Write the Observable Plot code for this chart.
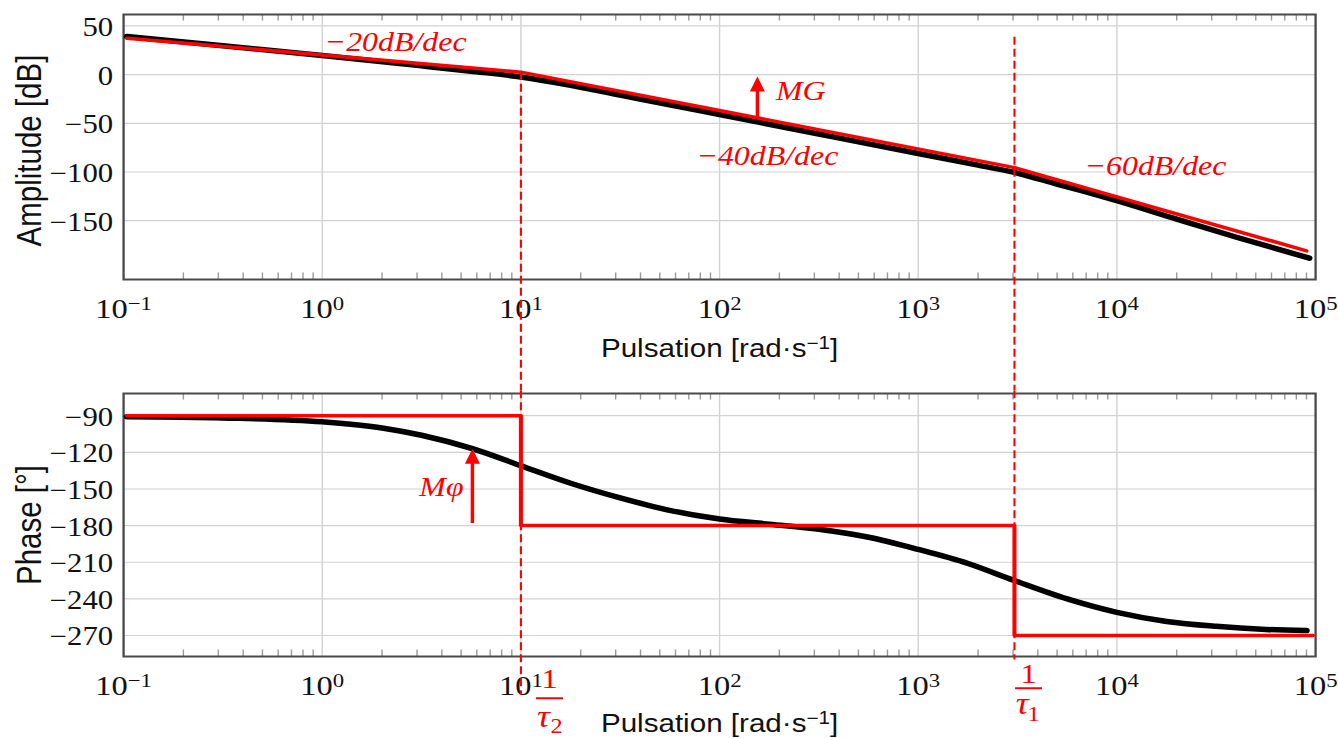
<!DOCTYPE html>
<html>
<head>
<meta charset="utf-8">
<script src="https://cdn.jsdelivr.net/npm/d3@7"></script>
<script src="https://cdn.jsdelivr.net/npm/@observablehq/plot@0.6"></script>
<style>
  html, body { margin: 0; padding: 0; background: #fff; overflow: hidden; }
  #chart { width: 1153px; transform-origin: 0 0; }
  #chart svg { display: block; }
</style>
</head>
<body>
<div id="chart"></div>
<script>
// ---------------- data ----------------
// Bode magnitude: actual curve (black)
const magW  = [0.104, 0.316, 1, 3.16, 5.6, 10, 17.8, 31.6, 56, 100, 316, 1000, 2000, 3050, 5000, 10000, 20000, 40000, 93000];
const magDb = [39.1, 29.6, 19.5, 9.0, 3.5, -2.5, -11, -21, -31, -41, -61, -81, -93, -100.5, -112.5, -129.5, -148.5, -167, -188.5];
// Bode magnitude: asymptotes (red)
const magAsymW  = [0.104, 10, 3050, 90000];
const magAsymDb = [37.4, 2.5, -95.5, -181];
// Bode phase: actual curve (black)
const phW   = [0.104, 0.316, 1, 2, 3.16, 5.7, 10, 17.8, 31.6, 56, 100, 178, 316, 562, 1000, 1780, 3050, 5620, 10000, 17800, 31600, 56200, 90000];
const phDeg = [-90.8, -91.8, -95, -100, -106, -117, -131, -145.3, -157.3, -167.5, -174.6, -178.8, -183, -189.5, -199.5, -211, -225, -240, -251, -258.5, -262.5, -265, -266];
// Bode phase: asymptotes (red step)
const phAsymW   = [0.104, 10, 10, 3050, 3050, 97000];
const phAsymDeg = [-90, -90, -180, -180, -270, -270];
// ticks
const decadeExps = [-1, 0, 1, 2, 3, 4, 5];
const magTicks = [50, 0, -50, -100, -150];
const phTicks = [-90, -120, -150, -180, -210, -240, -270];
// corner pulsations 1/tau2, 1/tau1
const corners = [10, 3050];
// annotation texts (top panel)
const slopeText = ["−20dB/dec", "−40dB/dec", "−60dB/dec", "MG"];
const slopeW    = [2.34, 174, 15630, 256];
const slopeDb   = [24, -93.3, -102.6, -26.6];
// margin arrows
const mgArrow  = {w: 155, from: -45.6, to: -2};
const mphArrow = {w: 5.7, from: -178.3, to: -117};
// dashed corner lines: start / end values
const dashTopFrom = [2.5, 38.4];
const dashBotTo = [-319, -290];

// ---------------- layout ----------------
const W = 1153, S = 1338 / W;
const ML = 123 / S, MR = (1338 - 1315) / S;
const RED = "#ff0000";
const GRID = "#d2d2d2";
const xDomain = [0.1, 1e5];
const topDomain = [-210.4, 61.7];
const botDomain = [-287.2, -71.8];
const fmtExp = e => (e < 0 ? "−" + (-e) : String(e));
const minors = [];
for (const e of decadeExps.slice(0, -1)) for (let k = 2; k <= 9; k++) minors.push(k * 10 ** e);
const majors = decadeExps.slice(1, -1).map(e => 10 ** e);

const arrowHead = {draw(ctx) { ctx.moveTo(0, 0); ctx.lineTo(-6.5, 15); ctx.lineTo(6.5, 15); ctx.closePath(); }};

function frameMarks(yDomain, yTicks, tickLenUnits, titleDy) {
  return [
    Plot.ruleX(majors, {stroke: GRID, strokeWidth: 1.2}),
    Plot.ruleY(yTicks, {stroke: GRID, strokeWidth: 1.2}),
    Plot.ruleX(minors, {y1: yDomain[0], y2: yDomain[0] + tickLenUnits, stroke: "#999", strokeWidth: 1.2}),
    Plot.ruleX(minors, {y1: yDomain[1], y2: yDomain[1] - tickLenUnits, stroke: "#999", strokeWidth: 1.2}),
    Plot.frame({stroke: "#4a4a4a", strokeWidth: 2}),
    Plot.text(yTicks, {y: d => d, text: d => (d < 0 ? "−" + (-d) : String(d)), frameAnchor: "left",
      textAnchor: "end", lineAnchor: "bottom", dx: -9, dy: 10, fontSize: 26.5, fontFamily: "Liberation Serif", fill: "#111"}),
    Plot.text(decadeExps, {x: e => 10 ** e, text: e => `10{${fmtExp(e)}}`, frameAnchor: "bottom",
      textAnchor: "middle", lineAnchor: "bottom", dy: 38, fontSize: 28, fontFamily: "Liberation Serif", fill: "#111"}),
    Plot.text(["Pulsation [rad·s{−1}]"], {text: d => d, frameAnchor: "bottom", textAnchor: "middle",
      lineAnchor: "bottom", dy: titleDy, fontSize: 25.5, fontFamily: "Liberation Sans", fill: "#111"})
  ];
}

const mag = magW.map((w, i) => ({w, v: magDb[i]}));
const magAsym = magAsymW.map((w, i) => ({w, v: magAsymDb[i]}));
const ph = phW.map((w, i) => ({w, v: phDeg[i]}));
const phAsym = phAsymW.map((w, i) => ({w, v: phAsymDeg[i]}));
const slopes = slopeText.map((t, i) => ({t, w: slopeW[i], v: slopeDb[i]}));

const topPlot = Plot.plot({
  width: W, height: 390, marginTop: 14, marginBottom: 111, marginLeft: ML, marginRight: MR,
  style: {background: "white", overflow: "hidden"},
  x: {type: "log", domain: xDomain, axis: null},
  y: {domain: topDomain, axis: null},
  marks: [
    ...frameMarks(topDomain, magTicks, 6.5 / 0.974, 77),
    Plot.text(["Amplitude [dB]"], {text: d => d, y: -78, frameAnchor: "left", rotate: -90,
      textAnchor: "middle", lineAnchor: "bottom", dx: 35.1 - ML, fontSize: 29.5,
      fontFamily: "Liberation Sans", fill: "#111"}),
    Plot.line(mag, {x: "w", y: "v", stroke: "#000", strokeWidth: 5.5, curve: "monotone-x"}),
    Plot.line(magAsym, {x: "w", y: "v", stroke: RED, strokeWidth: 3.5}),
    Plot.ruleX(corners.map((w, i) => ({w, from: dashTopFrom[i]})), {x: "w", y1: "from", y2: -340,
      stroke: RED, strokeWidth: 1.8, strokeDasharray: "8,4"}),
    Plot.ruleX([mgArrow], {x: "w", y1: "to", y2: "from", insetTop: 8, stroke: RED, strokeWidth: 3}),
    Plot.dot([mgArrow], {x: "w", y: "to", symbol: arrowHead, fill: RED, stroke: "none"}),
    Plot.text(slopes, {x: "w", y: "v", text: "t", textAnchor: "middle", lineAnchor: "bottom", fontSize: 27.5,
      fontFamily: "Liberation Serif", fontStyle: "italic", fill: RED})
  ]
});

// fraction labels (bottom panel)
const fracOne = [{w: 13.94, v: -312.6}, {w: 3592, v: -308.5}];
const fracBar = [{w1: 11.98, w2: 16.39, v: -321.4}, {w1: 3090, w2: 4225, v: -313.2}];
const fracTau = [{w: 13.0, v: -345.2}, {w: 3336, v: -334.1}];
const fracSub = [{t: "2", w: 15.12, v: -349.5}, {t: "1", w: 3806, v: -340.4}];

const botPlot = Plot.plot({
  width: W, height: 348, marginTop: 3, marginBottom: 82, marginLeft: ML, marginRight: MR,
  style: {background: "white", overflow: "hidden"},
  x: {type: "log", domain: xDomain, axis: null},
  y: {domain: botDomain, axis: null},
  marks: [
    ...frameMarks(botDomain, phTicks, 6.5 / 1.221, 75),
    Plot.text(["Phase [°]"], {text: d => d, y: (botDomain[0] + botDomain[1]) / 2, frameAnchor: "left", rotate: -90,
      textAnchor: "middle", lineAnchor: "bottom", dx: 35.1 - ML, fontSize: 29.5,
      fontFamily: "Liberation Sans", fill: "#111"}),
    Plot.line(ph, {x: "w", y: "v", stroke: "#000", strokeWidth: 5.5, curve: "monotone-x"}),
    Plot.line(phAsym, {x: "w", y: "v", stroke: RED, strokeWidth: 3.5}),
    Plot.ruleX(corners.map((w, i) => ({w, to: dashBotTo[i]})), {x: "w", y1: -40, y2: "to",
      stroke: RED, strokeWidth: 1.8, strokeDasharray: "8,4"}),
    Plot.ruleX([mphArrow], {x: "w", y1: "to", y2: "from", insetTop: 8, stroke: RED, strokeWidth: 3}),
    Plot.dot([mphArrow], {x: "w", y: "to", symbol: arrowHead, fill: RED, stroke: "none"}),
    Plot.text([{t: "Mφ", w: 3.98, v: -155.4}], {x: "w", y: "v", text: "t", textAnchor: "middle",
      lineAnchor: "bottom", fontSize: 27.5, fontFamily: "Liberation Serif", fontStyle: "italic", fill: RED}),
    Plot.text(fracOne, {x: "w", y: "v", text: () => "1", textAnchor: "middle", lineAnchor: "bottom", fontSize: 28,
      fontFamily: "Liberation Serif", fill: RED}),
    Plot.ruleY(fracBar, {x1: "w1", x2: "w2", y: "v", stroke: RED, strokeWidth: 2}),
    Plot.text(fracTau, {x: "w", y: "v", text: () => "τ", textAnchor: "middle", lineAnchor: "bottom", fontSize: 31,
      fontFamily: "Liberation Serif", fontStyle: "italic", fill: RED}),
    Plot.text(fracSub, {x: "w", y: "v", text: "t", textAnchor: "middle", lineAnchor: "bottom", fontSize: 21,
      fontFamily: "Liberation Serif", fill: RED})
  ]
});

// turn "base{sup}rest" into real superscripts
function supify(svg) {
  const ns = "http://www.w3.org/2000/svg";
  svg.querySelectorAll("text").forEach(t => {
    const m = t.textContent.match(/^(.*)\{(.*)\}(.*)$/);
    if (!m) return;
    t.textContent = "";
    t.appendChild(document.createTextNode(m[1]));
    const sp = document.createElementNS(ns, "tspan");
    sp.setAttribute("font-size", "0.7em");
    sp.setAttribute("dy", "-8");
    sp.textContent = m[2];
    t.appendChild(sp);
    if (m[3]) {
      const r = document.createElementNS(ns, "tspan");
      r.setAttribute("dy", "8");
      r.textContent = m[3];
      t.appendChild(r);
    }
  });
}
supify(topPlot);
supify(botPlot);

const chart = document.getElementById("chart");
chart.style.transform = `scaleX(${S})`;
chart.appendChild(topPlot);
chart.appendChild(botPlot);
</script>
</body>
</html>
